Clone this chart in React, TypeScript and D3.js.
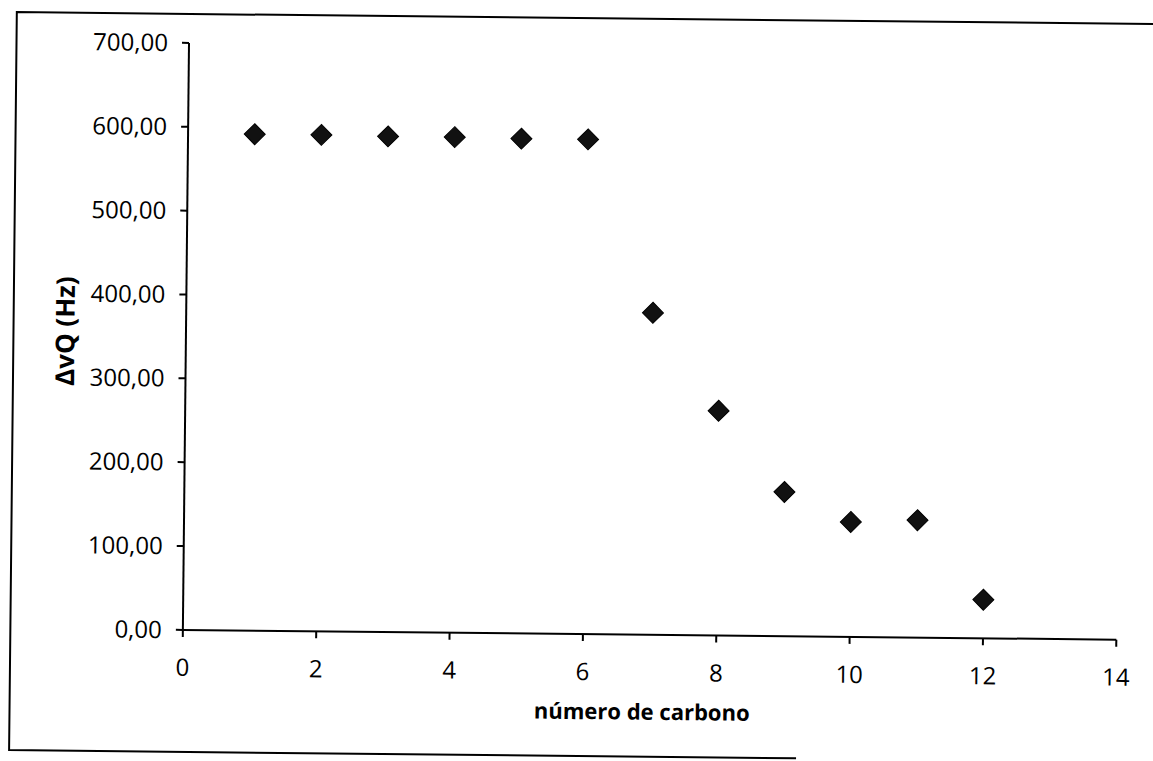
import React from "react";
import * as d3 from "d3";

const carbonNumbers = [1, 2, 3, 4, 5, 6, 7, 8, 9, 10, 11, 12];
const deltaNuQ = [592, 592, 591, 591, 590, 590, 384, 268, 172, 137, 140, 46];
const xTicks = [0, 2, 4, 6, 8, 10, 12, 14];
const yTicks = [0, 100, 200, 300, 400, 500, 600, 700];
const xTitle = "número de carbono";
const yTitle = "ΔvQ (Hz)";

const W = 1153;
const H = 761;
const FONT = "'Open Sans', 'DejaVu Sans', sans-serif";

export default function App() {
  const x = d3.scaleLinear().domain([0, 14]).range([185.5, 1119]);
  const y = d3.scaleLinear().domain([0, 700]).range([634, 47]);
  const locale = d3.formatLocale({ decimal: ",", thousands: ".", grouping: [3], currency: ["", ""] });
  const fmt = locale.format(".2f");
  const marker = d3.symbol().type(d3.symbolSquare).size(220)();
  const pts = carbonNumbers.map((c, i) => ({ c, v: deltaNuQ[i] }));

  return (
    <svg
      width={W}
      height={H}
      style={{ position: "absolute", left: 0, top: 0, display: "block", background: "#fff" }}
    >
      <rect x={0} y={0} width={W} height={H} fill="#fff" />
      <g transform="rotate(0.6 576 380)">
        {/* frame */}
        <path d="M1170,18 H13 V756 H800" fill="none" stroke="#000" strokeWidth={2} />

        {/* y axis */}
        <line x1={x(0)} x2={x(0)} y1={y(700)} y2={y(0)} stroke="#000" strokeWidth={2} />
        {yTicks.map((t) => (
          <g key={"y" + t}>
            <line x1={x(0) - 7} x2={x(0)} y1={y(t)} y2={y(t)} stroke="#000" strokeWidth={2} />
            <text
              x={x(0) - 21}
              y={y(t)}
              dy="0.35em"
              textAnchor="end"
              fontFamily={FONT}
              fontSize={24}
              fill="#000"
            >
              {fmt(t)}
            </text>
          </g>
        ))}

        {/* x axis */}
        <line x1={x(0)} x2={x(14)} y1={y(0)} y2={y(0)} stroke="#000" strokeWidth={2} />
        {xTicks.map((t) => (
          <g key={"x" + t}>
            <line x1={x(t)} x2={x(t)} y1={y(0)} y2={y(0) + 7} stroke="#000" strokeWidth={2} />
            <text
              x={x(t)}
              y={y(0) + 46}
              textAnchor="middle"
              fontFamily={FONT}
              fontSize={24}
              fill="#000"
            >
              {t}
            </text>
          </g>
        ))}

        {/* titles */}
        <text
          x={(x(0) + x(14)) / 2 - 7}
          y={719}
          textAnchor="middle"
          fontFamily={FONT}
          fontWeight="bold"
          fontSize={22}
          fill="#000"
        >
          {xTitle}
        </text>
        <text
          transform={`translate(74,${(y(0) + y(700)) / 2 - 4}) rotate(-90)`}
          textAnchor="middle"
          fontFamily={FONT}
          fontWeight="bold"
          fontSize={26}
          fill="#000"
        >
          {yTitle}
        </text>

        {/* points */}
        {pts.map((p) => (
          <path
            key={"p" + p.c}
            d={marker || ""}
            transform={`translate(${x(p.c)},${y(p.v)}) rotate(45)`}
            fill="#111"
            stroke="#000"
            strokeWidth={1}
          />
        ))}
      </g>
    </svg>
  );
}
